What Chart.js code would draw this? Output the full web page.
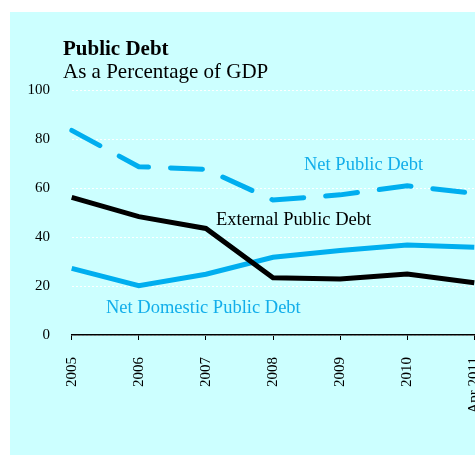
<!DOCTYPE html>
<html>
<head>
<meta charset="utf-8">
<script src="https://cdn.jsdelivr.net/npm/chart.js@4"></script>
<style>
  html, body { margin: 0; padding: 0; width: 475px; height: 456px; overflow: hidden; background: #ffffff; }
  #panel { position: absolute; left: 10px; top: 12px; width: 490px; height: 443px; background: #ccffff; }
  #wrap { position: absolute; left: 0; top: 0; width: 500px; height: 456px; }
</style>
</head>
<body>
<div id="panel"></div>
<div id="wrap"><canvas id="c" width="500" height="456"></canvas></div>
<script>
const categories = ["2005", "2006", "2007", "2008", "2009", "2010", "Apr 2011"];
const netPublicDebt = [83.5, 68.7, 67.6, 55.1, 57.2, 60.9, 57.8];
const externalPublicDebt = [56.2, 48.3, 43.5, 23.4, 22.9, 24.9, 21.3];
const netDomesticPublicDebt = [27.2, 20.1, 24.8, 31.7, 34.5, 36.7, 35.8];
const yTicks = [0, 20, 40, 60, 80, 100];

const SERIF = "'Liberation Serif', 'Times New Roman', Times, serif";
const BLUE = '#00aeef';
const BLUE_TEXT = '#12aeea';

const textPlugin = {
  id: 'texts',
  afterDraw(chart) {
    const ctx = chart.ctx;
    ctx.save();
    ctx.textAlign = 'left';
    ctx.textBaseline = 'alphabetic';
    ctx.fillStyle = '#000';
    ctx.font = 'bold 21px ' + SERIF;
    ctx.fillText('Public Debt', 63, 55);
    ctx.font = '21px ' + SERIF;
    ctx.fillText('As a Percentage of GDP', 63, 78);
    ctx.font = '18.5px ' + SERIF;
    ctx.fillStyle = BLUE_TEXT;
    ctx.fillText('Net Public Debt', 304, 170);
    ctx.fillStyle = '#000';
    ctx.fillText('External Public Debt', 216, 225);
    ctx.fillStyle = BLUE_TEXT;
    ctx.fillText('Net Domestic Public Debt', 106, 313);
    ctx.restore();
  }
};

new Chart(document.getElementById('c'), {
  type: 'line',
  data: {
    labels: categories,
    datasets: [
      { label: 'Net Public Debt', data: netPublicDebt, borderColor: BLUE, borderWidth: 5,
        borderDash: [32, 22], borderCapStyle: 'round', pointRadius: 0, tension: 0, fill: false },
      { label: 'External Public Debt', data: externalPublicDebt, borderColor: '#000000', borderWidth: 5,
        pointRadius: 0, tension: 0, fill: false },
      { label: 'Net Domestic Public Debt', data: netDomesticPublicDebt, borderColor: BLUE, borderWidth: 5,
        pointRadius: 0, tension: 0, fill: false }
    ]
  },
  options: {
    responsive: false,
    animation: false,
    layout: { padding: { left: 0, right: 25.7, top: 90, bottom: 0 } },
    plugins: { legend: { display: false }, title: { display: false }, tooltip: { enabled: false } },
    scales: {
      x: {
        type: 'category',
        offset: false,
        grid: { display: true, drawOnChartArea: false, drawTicks: true, tickLength: 5, color: '#000', lineWidth: 1 },
        border: { display: true, color: '#000', width: 1.5 },
        ticks: { minRotation: 90, maxRotation: 90, autoSkip: false, padding: 17, color: '#000',
                 font: { family: SERIF, size: 15 } },
        afterFit(scale) { scale.height = 121; scale.paddingLeft = 0; scale.paddingRight = 0; }
      },
      y: {
        min: 0, max: 100,
        afterBuildTicks(scale) { scale.ticks = yTicks.map(v => ({ value: v })); },
        grid: { color: 'rgba(255,255,255,0.95)', lineWidth: 1, drawTicks: false },
        border: { display: false, dash: [2, 2] },
        ticks: { padding: 21.7, color: '#000', font: { family: SERIF, size: 15 } },
        afterFit(scale) { scale.width = 71.7; scale.paddingTop = 0; scale.paddingBottom = 0; }
      }
    }
  },
  plugins: [textPlugin]
});
</script>
</body>
</html>
